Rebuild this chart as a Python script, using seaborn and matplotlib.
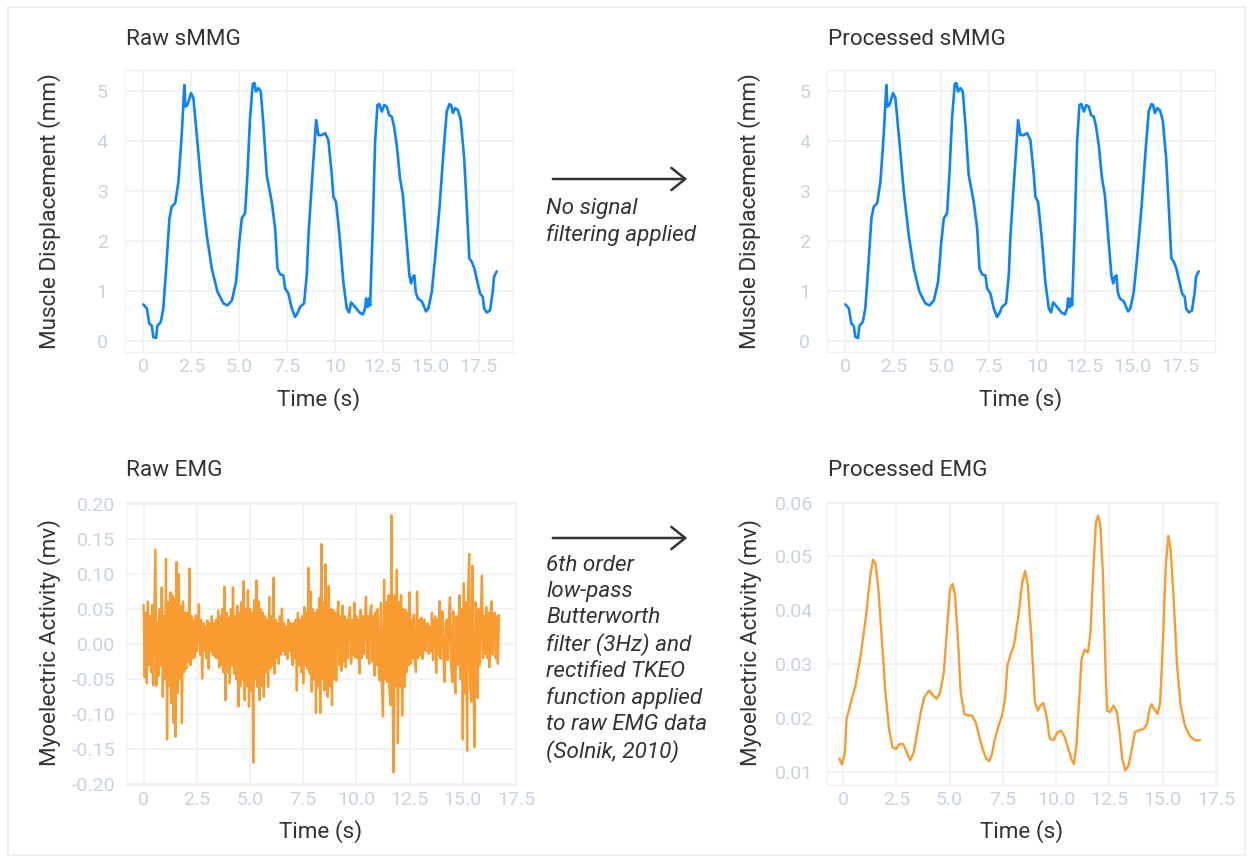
import numpy as np
import pandas as pd
import matplotlib
matplotlib.use('Agg')
import matplotlib.pyplot as plt
from matplotlib.patches import FancyArrowPatch, Rectangle
import seaborn as sns

# sMMG trace (raw and processed are the same curve)
smmg_t = [0.00, 0.18, 0.31, 0.44, 0.52, 0.66, 0.73, 0.91, 1.04, 1.19, 1.36, 1.48, 1.66, 1.83,
          2.00, 2.14, 2.19, 2.30, 2.49, 2.61, 2.79, 3.05, 3.31, 3.57, 3.87, 4.18, 4.39, 4.62,
          4.84, 5.01, 5.14, 5.31, 5.43, 5.57, 5.71, 5.80, 5.88, 6.01, 6.13, 6.27, 6.44, 6.70,
          6.88, 7.00, 7.14, 7.31, 7.40, 7.57, 7.75, 7.92, 8.04, 8.18, 8.39, 8.53, 8.62, 8.79,
          9.02, 9.14, 9.32, 9.49, 9.66, 9.84, 9.92, 10.06, 10.24, 10.44, 10.62, 10.74, 10.85,
          11.05, 11.28, 11.46, 11.58, 11.63, 11.72, 11.79, 11.84, 11.98, 12.10, 12.22, 12.32,
          12.45, 12.58, 12.71, 12.83, 12.97, 13.09, 13.23, 13.40, 13.55, 13.72, 13.89, 13.98,
          14.07, 14.15, 14.22, 14.33, 14.54, 14.66, 14.76, 14.88, 15.06, 15.23, 15.46, 15.67,
          15.84, 15.98, 16.07, 16.16, 16.28, 16.42, 16.57, 16.75, 16.89, 17.02, 17.15, 17.28,
          17.44, 17.58, 17.72, 17.79, 17.93, 18.10, 18.24, 18.31, 18.45]
smmg_mm = [0.73, 0.65, 0.35, 0.30, 0.08, 0.06, 0.30, 0.38, 0.65, 1.45, 2.45, 2.68, 2.75, 3.18,
           4.11, 5.11, 4.68, 4.71, 4.95, 4.85, 4.11, 2.98, 2.11, 1.45, 0.98, 0.75, 0.71, 0.81,
           1.18, 1.98, 2.45, 2.55, 3.31, 4.45, 5.13, 5.15, 4.98, 5.05, 4.98, 4.31, 3.31, 2.78,
           2.25, 1.45, 1.33, 1.31, 1.05, 0.95, 0.65, 0.48, 0.55, 0.68, 0.75, 1.31, 2.11, 3.11,
           4.41, 4.11, 4.11, 4.15, 4.01, 3.31, 2.88, 2.78, 2.11, 1.18, 0.65, 0.57, 0.77,
           0.68, 0.57, 0.53, 0.65, 0.85, 0.68, 0.85, 0.71, 2.31, 3.98, 4.71, 4.73,
           4.58, 4.71, 4.68, 4.51, 4.48, 4.28, 3.91, 3.25, 2.91, 2.11, 1.31, 1.15,
           1.28, 1.31, 0.98, 0.85, 0.79, 0.68, 0.59, 0.65, 0.98, 1.65, 2.65, 3.78,
           4.58, 4.73, 4.71, 4.55, 4.65, 4.61, 4.41, 3.65, 2.65, 1.65, 1.58, 1.45,
           1.18, 0.95, 0.88, 0.65, 0.57, 0.61, 0.98, 1.28, 1.39]

# raw EMG, one value every 0.05 s from 0 to 16.7 s
raw_emg_dt = 0.05
raw_emg_mv = [
    0.056, -0.047, 0.045, -0.056, 0.061, -0.030, 0.040, -0.040, 0.056, -0.059,
    0.035, 0.135, -0.059, 0.030, -0.045, 0.050, -0.030, 0.081, -0.075, 0.040,
    -0.050, 0.122, -0.136, 0.060, -0.060, 0.074, -0.084, 0.070, -0.112, 0.065,
    -0.132, 0.117, -0.070, 0.100, -0.050, 0.055, -0.113, 0.061, -0.040, 0.045,
    -0.035, 0.045, -0.025, 0.108, -0.030, 0.040, -0.020, 0.035, -0.019, 0.041,
    -0.010, 0.030, 0.057, -0.015, 0.035, -0.049, 0.030, -0.010, 0.025, -0.020,
    0.034, -0.035, 0.030, -0.010, 0.040, -0.015, 0.030, -0.019, 0.035, -0.020,
    0.048, -0.033, 0.040, -0.030, 0.050, -0.040, 0.082, -0.080, 0.045, -0.040,
    0.038, -0.056, 0.050, -0.030, 0.081, -0.042, 0.040, -0.050, 0.055, -0.089,
    0.045, -0.060, 0.060, -0.050, 0.090, -0.080, 0.050, -0.060, 0.077, -0.089,
    0.050, -0.066, 0.045, -0.169, 0.063, -0.050, 0.091, -0.061, 0.061, -0.080,
    0.050, -0.060, 0.045, -0.075, 0.040, -0.040, 0.035, -0.061, 0.067, -0.035,
    0.040, -0.030, 0.095, -0.042, 0.035, -0.020, 0.030, -0.028, 0.040, -0.015,
    0.051, -0.010, 0.030, -0.015, 0.025, -0.021, 0.035, -0.010, 0.030, -0.015,
    -0.030, 0.030, -0.020, 0.035, -0.066, 0.045, -0.030, 0.035, -0.040, 0.040,
    -0.056, 0.053, -0.030, 0.045, -0.035, 0.109, -0.042, 0.075, -0.068, 0.050,
    -0.050, 0.045, -0.098, 0.049, -0.060, 0.066, -0.098, 0.143, -0.050, 0.060,
    -0.066, 0.114, -0.050, -0.075, 0.083, -0.060, 0.050, -0.087, 0.049, -0.050,
    0.045, -0.052, 0.040, 0.061, -0.030, 0.040, -0.038, 0.055, -0.025, 0.040,
    -0.033, 0.035, -0.020, 0.040, 0.053, -0.028, 0.035, -0.015, 0.059, -0.019,
    0.040, -0.020, 0.035, -0.042, 0.049, -0.020, 0.040, -0.014, 0.035, 0.068,
    -0.020, 0.040, -0.028, 0.045, 0.056, -0.025, 0.040, -0.045, 0.045, -0.030,
    0.050, -0.040, -0.052, 0.059, -0.060, -0.103, 0.092, -0.050, 0.060, -0.054,
    0.070, -0.060, -0.087, 0.184, -0.070, -0.183, 0.070, -0.060, 0.106, -0.141,
    0.060, -0.060, 0.070, -0.102, 0.050, -0.061, 0.049, -0.040, 0.045, -0.030,
    0.074, -0.028, 0.035, -0.020, 0.042, -0.025, -0.040, 0.075, -0.020, 0.035,
    -0.015, 0.038, -0.021, 0.030, 0.035, -0.010, 0.025, 0.030, -0.014, 0.025,
    -0.010, 0.045, -0.023, 0.030, 0.040, -0.041, 0.035, -0.015, 0.061, -0.021,
    0.035, 0.047, -0.030, -0.054, 0.030, 0.035, -0.023, 0.045, 0.067, -0.030,
    -0.054, 0.047, -0.040, -0.070, 0.040, -0.030, -0.028, 0.070, -0.050, 0.050,
    -0.136, 0.087, -0.070, 0.060, -0.152, 0.070, 0.129, -0.060, -0.082, 0.112,
    -0.060, -0.147, 0.060, 0.049, -0.077, 0.050, -0.030, 0.045, 0.098, -0.020,
    0.040, -0.014, 0.053, -0.020, 0.045, -0.033, 0.040, 0.061, -0.015, 0.040,
    0.045, -0.020, 0.040, -0.028, 0.042]

# processed EMG (low-pass + TKEO)
proc_emg_t = [-0.17, -0.05, 0.08, 0.17, 0.33, 0.58, 0.83, 1.08, 1.28, 1.41, 1.53, 1.66, 1.82,
              1.99, 2.16, 2.32, 2.49, 2.65, 2.82, 2.99, 3.15, 3.32, 3.48, 3.65, 3.81, 4.03,
              4.23, 4.39, 4.56, 4.73, 4.89, 5.02, 5.14, 5.26, 5.39, 5.52, 5.69, 5.86, 6.05,
              6.22, 6.38, 6.55, 6.72, 6.85, 6.97, 7.13, 7.30, 7.46, 7.60, 7.71, 7.84, 8.01,
              8.21, 8.41, 8.54, 8.67, 8.84, 9.00, 9.14, 9.25, 9.40, 9.54, 9.70, 9.87, 10.07,
              10.23, 10.40, 10.57, 10.73, 10.83, 10.95, 11.06, 11.19, 11.33, 11.49, 11.61,
              11.72, 11.86, 11.97, 12.07, 12.19, 12.32, 12.39, 12.52, 12.69, 12.85, 12.99,
              13.10, 13.24, 13.39, 13.55, 13.69, 13.85, 14.10, 14.26, 14.38, 14.48, 14.59,
              14.76, 14.88, 15.01, 15.14, 15.26, 15.37, 15.51, 15.67, 15.84, 16.04, 16.25,
              16.50, 16.75]
proc_emg_mv = [0.0125, 0.0114, 0.0134, 0.0199, 0.0223, 0.0260, 0.0316, 0.0390, 0.0464, 0.0494,
               0.0486, 0.0439, 0.0347, 0.0248, 0.0180, 0.0146, 0.0143, 0.0152, 0.0152, 0.0137,
               0.0122, 0.0137, 0.0174, 0.0211, 0.0239, 0.0251, 0.0242, 0.0236, 0.0248, 0.0285,
               0.0371, 0.0439, 0.0449, 0.0427, 0.0347, 0.0248, 0.0208, 0.0205, 0.0205, 0.0193,
               0.0168, 0.0143, 0.0125, 0.0120, 0.0131, 0.0162, 0.0186, 0.0205, 0.0236, 0.0297,
               0.0316, 0.0334, 0.0384, 0.0452, 0.0473, 0.0446, 0.0347, 0.0230, 0.0214, 0.0223,
               0.0228, 0.0205, 0.0162, 0.0159, 0.0174, 0.0177, 0.0165, 0.0143, 0.0122, 0.0115,
               0.0149, 0.0223, 0.0310, 0.0327, 0.0322, 0.0359, 0.0458, 0.0563, 0.0576, 0.0557,
               0.0470, 0.0285, 0.0214, 0.0211, 0.0223, 0.0211, 0.0168, 0.0125, 0.0103, 0.0112,
               0.0143, 0.0174, 0.0177, 0.0180, 0.0189, 0.0217, 0.0226, 0.0217, 0.0208, 0.0230,
               0.0347, 0.0483, 0.0538, 0.0513, 0.0421, 0.0297, 0.0223, 0.0186, 0.0168, 0.0159,
               0.0159]

W, H = 1252, 860
BLUE = '#0b84fb'
ORANGE = '#f89c31'
DARK = '#333333'
TICK = '#c9d3df'
GRID = '#f0f2f5'
FS = 16.2

sns.set_theme(style='white')
plt.rcParams['font.family'] = ['Roboto', 'DejaVu Sans']

fig = plt.figure(figsize=(W / 100, H / 100), dpi=100)
fig.patch.set_facecolor('white')


def px_rect(left, right, top, bottom):
    return [left / W, 1 - bottom / H, (right - left) / W, (bottom - top) / H]


def style(ax, xticks, xlabels, yticks, ylabels, ypad):
    ax.set_xticks(xticks)
    ax.set_xticklabels(xlabels)
    ax.set_yticks(yticks)
    ax.set_yticklabels(ylabels)
    ax.tick_params(axis='both', length=0, labelsize=14, labelcolor=TICK)
    ax.tick_params(axis='x', pad=4)
    ax.tick_params(axis='y', pad=ypad)
    ax.grid(True, color=GRID, linewidth=1.3)
    ax.set_axisbelow(True)
    for s in ax.spines.values():
        s.set_color(GRID)
        s.set_linewidth(1.0)
    ax.set_xlabel('')
    ax.set_ylabel('')


xt = [0, 2.5, 5, 7.5, 10, 12.5, 15, 17.5]
xl_top = ['0', '2.5', '5.0', '7.5', '10', '12.5', '15.0', '17.5']
xl_bot = ['0', '2.5', '5.0', '7.5', '10.0', '12.5', '15.0', '17.5']

smmg = pd.DataFrame({'t': smmg_t, 'mm': smmg_mm})
raw_emg = pd.DataFrame({'t': np.arange(len(raw_emg_mv)) * raw_emg_dt, 'mv': raw_emg_mv})
proc_emg = pd.DataFrame({'t': proc_emg_t, 'mv': proc_emg_mv})

# top row: sMMG
for rect, pad in [((125, 513, 70, 352), 12.5), ((827, 1215, 70, 352), 12)]:
    ax = fig.add_axes(px_rect(*rect))
    sns.lineplot(data=smmg, x='t', y='mm', ax=ax, color=BLUE, linewidth=1.9,
                 estimator=None, sort=False)
    ax.lines[0].set_solid_joinstyle('round')
    ax.set_xlim(-0.96, 19.3)
    ax.set_ylim(-0.22, 5.41)
    style(ax, xt, xl_top, [0, 1, 2, 3, 4, 5], ['0', '1', '2', '3', '4', '5'], pad)

# bottom left: raw EMG
ax = fig.add_axes(px_rect(126, 516, 502, 785))
sns.lineplot(data=raw_emg, x='t', y='mv', ax=ax, color=ORANGE, linewidth=1.7,
             estimator=None, sort=False)
ax.set_xlim(-0.83, 17.5)
ax.set_ylim(-0.201, 0.203)
yt = [-0.2, -0.15, -0.1, -0.05, 0, 0.05, 0.1, 0.15, 0.2]
style(ax, xt, xl_bot, yt, ['-0.20', '-0.15', '-0.10', '-0.05', '0.00', '0.05', '0.10', '0.15', '0.20'], 8)

# bottom right: processed EMG
ax = fig.add_axes(px_rect(827, 1218, 502, 785))
sns.lineplot(data=proc_emg, x='t', y='mv', ax=ax, color=ORANGE, linewidth=1.7,
             estimator=None, sort=False)
ax.lines[0].set_solid_joinstyle('round')
ax.set_xlim(-0.75, 17.59)
ax.set_ylim(0.0076, 0.0601)
yt = [0.01, 0.02, 0.03, 0.04, 0.05, 0.06]
style(ax, xt, xl_bot, yt, ['0.01', '0.02', '0.03', '0.04', '0.05', '0.06'], 10)


def ftext(x, y, s, **kw):
    fig.text(x / W, 1 - y / H, s, **kw)


# titles
for x, y, s in [(126, 45, 'Raw sMMG'), (828, 45, 'Processed sMMG'),
                (126, 476, 'Raw EMG'), (828, 476, 'Processed EMG')]:
    ftext(x, y, s, fontsize=FS, color=DARK, va='baseline', ha='left')

# axis labels
for x, y in [(319, 400), (1021, 400), (321, 832), (1022, 832)]:
    ftext(x, y, 'Time (s)', fontsize=FS, color=DARK, ha='center', va='center')
for x, y, s in [(50, 211, 'Muscle Displacement (mm)'), (750, 211, 'Muscle Displacement (mm)'),
                (50, 643, 'Myoelectric Activity (mv)'), (751, 643, 'Myoelectric Activity (mv)')]:
    ftext(x, y, s, fontsize=FS, color=DARK, ha='center', va='center', rotation=90)

# arrows and notes between the columns
for y in [179, 538]:
    arr = FancyArrowPatch((550 / W, 1 - y / H), (690 / W, 1 - y / H),
                          transform=fig.transFigure, arrowstyle='->,head_length=0.5,head_width=0.4',
                          mutation_scale=20, color=DARK, linewidth=1.8)
    fig.add_artist(arr)

ftext(546, 198, 'No signal\nfiltering applied', fontsize=FS, color=DARK,
      style='italic', ha='left', va='top', linespacing=1.3)
ftext(546, 555, '6th order\nlow-pass\nButterworth\nfilter (3Hz) and\nrectified TKEO\n'
      'function applied\nto raw EMG data\n(Solnik, 2010)', fontsize=FS, color=DARK,
      style='italic', ha='left', va='top', linespacing=1.3)

# light card border
fig.add_artist(Rectangle((8 / W, 1 - 855 / H), 1237 / W, 848 / H, transform=fig.transFigure,
                         fill=False, edgecolor='#edf1f5', linewidth=1.5))

fig.savefig('out.png', dpi=100)
